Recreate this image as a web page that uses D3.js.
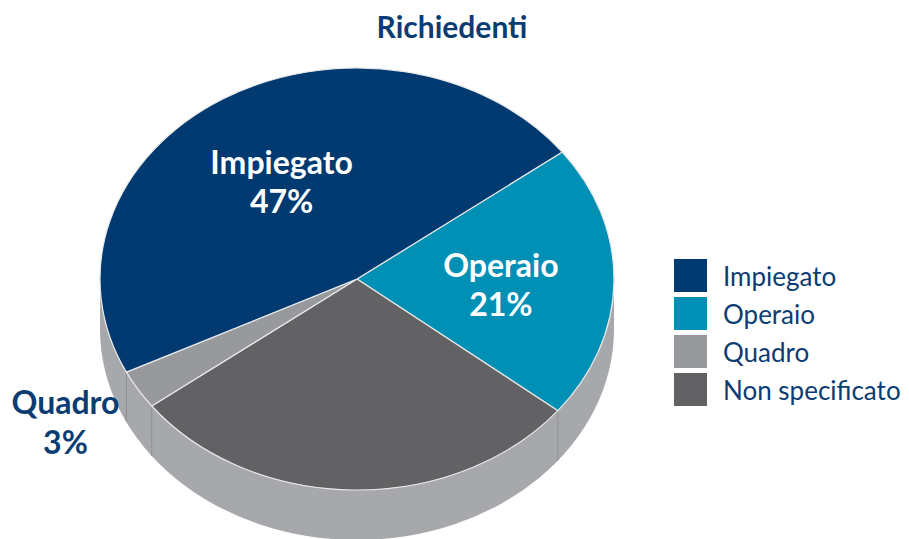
<!DOCTYPE html>
<html>
<head>
<meta charset="utf-8">
<script src="https://cdn.jsdelivr.net/npm/d3@7"></script>
<style>
  body { margin: 0; background: #fff; }
  svg { display: block; font-family: Lato, "Open Sans", sans-serif; }
</style>
</head>
<body>
<div class="chart"></div>
<script>
// data
var categories = ["Impiegato", "Operaio", "Quadro", "Non specificato"];
var values = [47, 21, 3, 29];
var labels = ["47%", "21%", "3%", ""];
var colors = ["#003a70", "#0090b6", "#98999d", "#626264"];
// order the slices run clockwise from the top-right boundary
var drawOrder = ["Operaio", "Non specificato", "Quadro", "Impiegato"];

var width = 909, height = 539;
var cx = 357, cy = 279, rx = 257, ry = 211, depth = 50;
var sideColor = "#a7a8ab";
var navy = "#0b3c72";

var svg = d3.select(".chart").append("svg")
    .attr("width", width)
    .attr("height", height);

var color = d3.scaleOrdinal().domain(categories).range(colors);

var data = drawOrder.map(function (c) {
    var i = categories.indexOf(c);
    return {name: c, value: values[i], label: labels[i]};
});

var rad = Math.PI / 180;
var pie = d3.pie()
    .sort(null)
    .value(function (d) { return d.value; })
    .startAngle(53 * rad)
    .endAngle(413 * rad);
var arcs = pie(data);

// point on the top ellipse for a d3 angle (0 = 12 o'clock, clockwise)
function pt(a, k, dy) {
    k = k || 1;
    return [cx + rx * k * Math.sin(a), cy - ry * k * Math.cos(a) + (dy || 0)];
}

function slicePath(a0, a1) {
    var p0 = pt(a0), p1 = pt(a1);
    var large = (a1 - a0) > Math.PI ? 1 : 0;
    return "M" + cx + "," + cy + "L" + p0 + "A" + rx + "," + ry + " 0 " + large + " 1 " + p1 + "Z";
}

// side wall: front half of the ellipse
var s0 = 90 * rad, s1 = 270 * rad;
var a = pt(s0), b = pt(s1), c = pt(s1, 1, depth), e = pt(s0, 1, depth);
svg.append("path")
    .attr("class", "side")
    .attr("d", "M" + a + "A" + rx + "," + ry + " 0 0 1 " + b +
        "L" + c + "A" + rx + "," + ry + " 0 0 0 " + e + "Z")
    .style("fill", sideColor);

// facet lines on the side where slice edges meet the wall
var edges = arcs.map(function (d) { return d.startAngle; })
    .filter(function (t) { return t > s0 && t < s1; });
svg.selectAll(".facet")
    .data(edges)
    .enter().append("line")
    .attr("class", "facet")
    .attr("x1", function (t) { return pt(t)[0]; })
    .attr("y1", function (t) { return pt(t)[1]; })
    .attr("x2", function (t) { return pt(t)[0]; })
    .attr("y2", function (t) { return pt(t, 1, depth)[1]; })
    .style("stroke", "#8f9094")
    .style("stroke-width", 1);

// top face
svg.selectAll(".slice")
    .data(arcs)
    .enter().append("path")
    .attr("class", "slice")
    .attr("d", function (d) { return slicePath(d.startAngle, d.endAngle); })
    .style("fill", function (d) { return color(d.data.name); })
    .style("stroke", "#e8e8ea")
    .style("stroke-width", 1.2)
    .style("stroke-linejoin", "round");

// slice labels (the unlabelled slice gets none)
var shown = arcs.filter(function (d) { return d.data.label !== ""; });
var inside = shown.filter(function (d) { return d.data.value >= 10; });
var outside = shown.filter(function (d) { return d.data.value < 10; });

function labelPos(d, k) {
    return pt((d.startAngle + d.endAngle) / 2, k);
}

var lab = svg.selectAll(".lab")
    .data(inside)
    .enter().append("text")
    .attr("class", "lab")
    .attr("text-anchor", "middle")
    .style("fill", "#fff")
    .style("font-weight", "bold")
    .style("font-size", "32px")
    .attr("transform", function (d) {
        var p = labelPos(d, 0.56);
        return "translate(" + p[0] + "," + (p[1] - 4) + ")";
    });
lab.append("tspan").attr("x", 0).attr("y", 0).text(function (d) { return d.data.name; });
lab.append("tspan").attr("x", 0).attr("y", 39).text(function (d) { return d.data.label; });

var outLab = svg.selectAll(".outlab")
    .data(outside)
    .enter().append("text")
    .attr("class", "outlab")
    .attr("text-anchor", "middle")
    .style("fill", navy)
    .style("font-weight", "bold")
    .style("font-size", "32px")
    .attr("transform", function (d) {
        var p = labelPos(d, 1.35);
        return "translate(" + (p[0] + 4) + "," + (p[1] - 14) + ")";
    });
outLab.append("tspan").attr("x", 0).attr("y", 0).text(function (d) { return d.data.name; });
outLab.append("tspan").attr("x", 0).attr("y", 40).text(function (d) { return d.data.label; });

// title
svg.append("text")
    .attr("x", 452)
    .attr("y", 38)
    .attr("text-anchor", "middle")
    .style("fill", navy)
    .style("font-weight", "bold")
    .style("font-size", "30px")
    .text("Richiedenti");

// legend
var legend = svg.selectAll(".legend")
    .data(categories)
    .enter().append("g")
    .attr("class", "legend")
    .attr("transform", function (d, i) {
        return "translate(674," + (259 + i * 38) + ")";
    });

legend.append("rect")
    .attr("width", 33)
    .attr("height", 33)
    .style("fill", color);

legend.append("text")
    .attr("x", 49)
    .attr("y", 27)
    .style("fill", navy)
    .style("font-size", "26px")
    .text(function (d) { return d; });
</script>
</body>
</html>
